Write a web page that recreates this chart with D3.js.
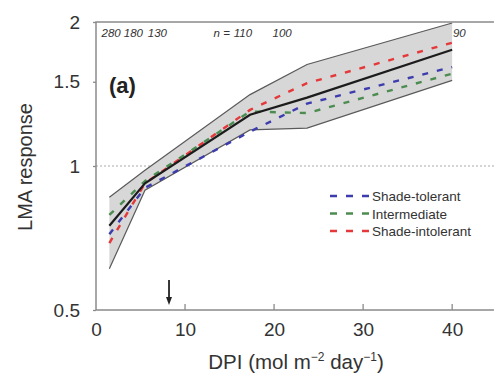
<!DOCTYPE html>
<html>
<head>
<meta charset="utf-8">
<script src="https://cdn.jsdelivr.net/npm/d3@7"></script>
<style>
  html, body { margin: 0; padding: 0; background: #fff; }
  svg { display: block; font-family: "Liberation Sans", Arial, Helvetica, sans-serif; }
</style>
</head>
<body>
<svg id="chart" width="494" height="374"></svg>
<script>
// Daily photon irradiance (DPI) at which LMA responses are evaluated
const dpi = [1.5, 5.5, 17.3, 23.7, 40];

// Overall response and its confidence band
const meanResponse = [0.75, 0.92, 1.28, 1.39, 1.75];
const bandLower    = [0.61, 0.89, 1.19, 1.20, 1.51];
const bandUpper    = [0.86, 0.98, 1.41, 1.63, 1.99];

// Responses by shade-tolerance group
const groupNames = ["Shade-tolerant", "Intermediate", "Shade-intolerant"];
const groupColors = ["#3c3cae", "#4c8c50", "#e5383a"];
const shadeTolerant   = [0.72, 0.90, 1.18, 1.35, 1.61];
const intermediate    = [0.79, 0.93, 1.30, 1.29, 1.56];
const shadeIntolerant = [0.69, 0.92, 1.31, 1.49, 1.81];
const groupValues = [shadeTolerant, intermediate, shadeIntolerant];

// Sample sizes printed along the top, with their DPI positions
const sampleSizes = ["280", "180", "130", "110", "100", "90"];
const sampleSizeDpi = [1.7, 4.2, 6.9, 16.5, 20.9, 40.8];

const xTicks = [0, 10, 20, 30, 40];
const yTicks = [0.5, 1, 1.5, 2];
const yTickLabels = ["0.5", "1", "1.5", "2"];
const arrowDpi = 8.2;

const svg = d3.select("#chart");
const plotL = 96, plotR = 494, plotT = 22, plotB = 310;

const x = d3.scaleLinear().domain([0, 44.7]).range([plotL, plotR]);
const y = d3.scaleLog().domain([0.5, 2]).range([plotB, plotT]);

const axisColor = "#8a8a8a";
const textColor = "#333";

// Reference line at a response of 1
svg.append("line")
  .attr("x1", plotL).attr("x2", plotR)
  .attr("y1", y(1)).attr("y2", y(1))
  .attr("stroke", "#aaa").attr("stroke-width", 1)
  .attr("stroke-dasharray", "2,2");

// Confidence band
const idx = d3.range(dpi.length);
svg.append("path")
  .datum(idx)
  .attr("d", d3.area().x(i => x(dpi[i])).y0(i => y(bandLower[i])).y1(i => y(bandUpper[i])))
  .attr("fill", "#d7d7d7");

[bandLower, bandUpper].forEach(vals => {
  svg.append("path")
    .datum(idx)
    .attr("d", d3.line().x(i => x(dpi[i])).y(i => y(vals[i])))
    .attr("fill", "none").attr("stroke", "#5a5a5a").attr("stroke-width", 1.2);
});

// Group response curves
groupValues.forEach((vals, g) => {
  svg.append("path")
    .datum(idx)
    .attr("d", d3.line().x(i => x(dpi[i])).y(i => y(vals[i])))
    .attr("fill", "none")
    .attr("stroke", groupColors[g])
    .attr("stroke-width", 2.4)
    .attr("stroke-dasharray", "6,9");
});

// Overall mean response
svg.append("path")
  .datum(idx)
  .attr("d", d3.line().x(i => x(dpi[i])).y(i => y(meanResponse[i])))
  .attr("fill", "none").attr("stroke", "#1c1c1c").attr("stroke-width", 2.2);

// Axes
const xAxis = d3.axisBottom(x).tickValues(xTicks).tickSize(0).tickPadding(13);
const gx = svg.append("g").attr("transform", `translate(0,${plotB})`).call(xAxis);
gx.select(".domain").remove();
gx.selectAll("text").attr("font-size", 19).attr("fill", textColor)
  .attr("font-family", "Liberation Sans, Arial, sans-serif");
// inward tick marks on the x axis
svg.selectAll(".xtick").data(xTicks.filter(d => d > 0)).enter().append("line")
  .attr("x1", d => x(d)).attr("x2", d => x(d))
  .attr("y1", plotB).attr("y2", plotB - 6)
  .attr("stroke", axisColor).attr("stroke-width", 1.3);

const yAxis = d3.axisLeft(y).tickValues(yTicks)
  .tickFormat((d, i) => yTickLabels[i]).tickSize(3).tickPadding(13);
const gy = svg.append("g").attr("transform", `translate(${plotL},0)`).call(yAxis);
gy.select(".domain").remove();
gy.selectAll(".tick line").attr("stroke", axisColor).attr("stroke-width", 1.3);
gy.selectAll("text").attr("font-size", 19).attr("fill", textColor)
  .attr("font-family", "Liberation Sans, Arial, sans-serif");

// Frame: left, bottom and top lines
svg.append("path")
  .attr("d", `M${plotR},${plotT}H${plotL}V${plotB}H${plotR}`)
  .attr("fill", "none").attr("stroke", axisColor).attr("stroke-width", 1.5);

// Axis titles
svg.append("text")
  .attr("transform", `translate(32,167) rotate(-90)`)
  .attr("text-anchor", "middle").attr("font-size", 20).attr("fill", textColor)
  .text("LMA response");

const xt = svg.append("text")
  .attr("x", 296).attr("y", 369)
  .attr("text-anchor", "middle").attr("font-size", 20.5).attr("fill", textColor);
xt.append("tspan").text("DPI (mol m");
xt.append("tspan").attr("font-size", 12).attr("dy", -8).text("−2");
xt.append("tspan").attr("dy", 8).text(" day");
xt.append("tspan").attr("font-size", 12).attr("dy", -8).text("−1");
xt.append("tspan").attr("dy", 8).text(")");

// Panel label
svg.append("text")
  .attr("x", 109).attr("y", 93)
  .attr("font-size", 22).attr("font-weight", "bold").attr("fill", "#222")
  .text("(a)");

// Sample sizes
svg.selectAll(".nlab").data(sampleSizes).enter().append("text")
  .attr("x", (d, i) => x(sampleSizeDpi[i]))
  .attr("y", 37)
  .attr("text-anchor", "middle")
  .attr("font-size", 11.5).attr("font-style", "italic").attr("fill", "#333")
  .text(d => d);
svg.append("text")
  .attr("x", x(sampleSizeDpi[3]) - 13).attr("y", 37)
  .attr("text-anchor", "end")
  .attr("font-size", 11.5).attr("font-style", "italic").attr("fill", "#333")
  .text("n =");

// Arrow marking the DPI where the response crosses 1
const ax = x(arrowDpi);
svg.append("line")
  .attr("x1", ax).attr("x2", ax).attr("y1", 280).attr("y2", 298)
  .attr("stroke", "#222").attr("stroke-width", 1.8);
svg.append("path")
  .attr("d", `M${ax - 3},${297}L${ax + 3},${297}L${ax},${305}Z`)
  .attr("fill", "#222");

// Legend
const legend = svg.append("g").attr("transform", "translate(330,196)");
groupNames.forEach((name, g) => {
  const row = legend.append("g").attr("transform", `translate(0,${g * 17.5})`);
  row.append("line")
    .attr("x1", 0).attr("x2", 41).attr("y1", 0).attr("y2", 0)
    .attr("stroke", groupColors[g]).attr("stroke-width", 2.4)
    .attr("stroke-dasharray", "7,9");
  row.append("text")
    .attr("x", 42).attr("y", 5)
    .attr("font-size", 13.5).attr("fill", "#333")
    .text(name);
});
</script>
</body>
</html>
